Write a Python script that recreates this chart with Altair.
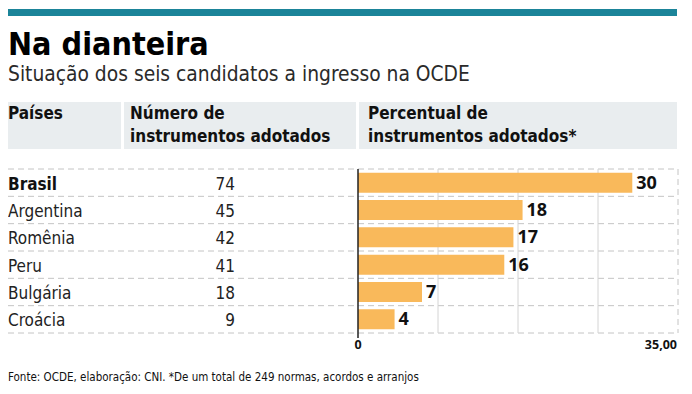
import altair as alt
import pandas as pd

# ---- data ----
paises = ["Brasil", "Argentina", "Romênia", "Peru", "Bulgária", "Croácia"]
numero = [74, 45, 42, 41, 18, 9]
percentual = [30, 18, 17, 16, 7, 4]
grid_vals = [8.75, 17.5, 26.25]
x_max = 35
tick_vals = [0, 35]
tick_labels = ["0", "35,00"]

titulo = "Na dianteira"
subtitulo = "Situação dos seis candidatos a ingresso na OCDE"
cab_paises = ["Países"]
cab_numero = ["Número de", "instrumentos adotados"]
cab_pct = ["Percentual de", "instrumentos adotados*"]
fonte = "Fonte: OCDE, elaboração: CNI. *De um total de 249 normas, acordos e arranjos"

# ---- styles ----
TEAL = "#1b8499"
GRAY = "#e9edef"
BAR = "#f9b95b"
DASH = "#c4c4c4"
COND = "DejaVu Sans Condensed, Liberation Sans Narrow, DejaVu Sans, sans-serif"
WIDE = "Open Sans, DejaVu Sans, sans-serif"

df = pd.DataFrame({"pais": paises, "numero": numero, "pct": percentual})
one = pd.DataFrame({"k": [0]})

xs = alt.Scale(domain=[0, x_max], range=[350, 670])
ys = alt.Scale(domain=paises, range=[161, 325], paddingInner=0, paddingOuter=0)
X = lambda f: alt.X(f, scale=xs, axis=None)
Y = lambda bp=0.5: alt.Y("pais:N", scale=ys, axis=None, sort=paises, bandPosition=bp)

base = alt.Chart(df)

# decorations
top_bar = alt.Chart(one).mark_rect(color=TEAL).encode(
    x=alt.value(0), x2=alt.value(669), y=alt.value(1), y2=alt.value(8))
bottom_bar = alt.Chart(one).mark_rect(color=TEAL).encode(
    x=alt.value(0), x2=alt.value(670), y=alt.value(380), y2=alt.value(384))
title = alt.Chart(one).mark_text(
    text=titulo, font=COND, fontSize=32, fontWeight="bold", align="left",
    baseline="alphabetic", color="#000").encode(x=alt.value(0), y=alt.value(47))
subtitle = alt.Chart(one).mark_text(
    text=subtitulo, font=COND, fontSize=20.8, align="left",
    baseline="alphabetic", color="#2a2a2a").encode(x=alt.value(0), y=alt.value(73))

hdr_rects = [
    alt.Chart(one).mark_rect(color=GRAY).encode(
        x=alt.value(a), x2=alt.value(b), y=alt.value(94), y2=alt.value(141))
    for a, b in [(0, 113), (116, 348), (351, 669)]
]
hdr_texts = [
    alt.Chart(one).mark_text(
        text=t, font=COND, fontSize=17, fontWeight="bold", align="left",
        baseline="alphabetic", lineHeight=23, color="#111").encode(
        x=alt.value(xp), y=alt.value(111))
    for t, xp in [(cab_paises, 0), (cab_numero, 122), (cab_pct, 360)]
]

# row separators
row_top = base.mark_rule(color=DASH, strokeDash=[6, 4], strokeWidth=1).encode(
    y=Y(0), x=alt.value(0), x2=alt.value(670))
row_bot = base.transform_filter(alt.datum.pais == paises[-1]).mark_rule(
    color=DASH, strokeDash=[6, 4], strokeWidth=1).encode(
    y=Y(1), x=alt.value(0), x2=alt.value(670))

grid = alt.Chart(pd.DataFrame({"v": grid_vals})).mark_rule(
    color="#d4d4d4", strokeWidth=1).encode(x=X("v:Q"), y=alt.value(161), y2=alt.value(325))
grid_end = alt.Chart(pd.DataFrame({"v": [x_max]})).mark_rule(
    color=DASH, strokeDash=[6, 4], strokeWidth=1).encode(
    x=X("v:Q"), y=alt.value(161), y2=alt.value(325))

bars = base.mark_bar(color=BAR, height={"band": 0.73}).encode(x=X("pct:Q"), y=Y())
bar_labels = base.mark_text(
    align="left", dx=4, dy=1, font=WIDE, fontSize=18, fontWeight="bold", color="#111").encode(
    x=X("pct:Q"), y=Y(), text="pct:Q")

axis_line = alt.Chart(pd.DataFrame({"v": [0]})).mark_rule(
    color="#222", strokeWidth=1.5).encode(x=X("v:Q"), y=alt.value(161), y2=alt.value(330))

ticks_df = pd.DataFrame({"v": tick_vals, "lab": tick_labels})
tick0 = alt.Chart(ticks_df).transform_filter(alt.datum.v == 0).mark_text(
    align="center", baseline="alphabetic", font=WIDE, fontSize=12.5, fontWeight="bold",
    color="#111").encode(x=X("v:Q"), y=alt.value(341), text="lab:N")
tick35 = alt.Chart(ticks_df).transform_filter(alt.datum.v == x_max).mark_text(
    align="right", baseline="alphabetic", font=WIDE, fontSize=12.5, fontWeight="bold",
    color="#111", dx=-1).encode(x=X("v:Q"), y=alt.value(341), text="lab:N")

names_bold = base.transform_filter(alt.datum.pais == paises[0]).mark_text(
    align="left", dy=2, font=COND, fontSize=17, fontWeight="bold", color="#111").encode(
    x=alt.value(0), y=Y(), text="pais:N")
names = base.transform_filter(alt.datum.pais != paises[0]).mark_text(
    align="left", dy=2, font=COND, fontSize=17, color="#222").encode(
    x=alt.value(0), y=Y(), text="pais:N")
nums = base.mark_text(align="right", dy=2, font=COND, fontSize=17, color="#222").encode(
    x=alt.value(227), y=Y(), text="numero:Q")

footer = alt.Chart(one).mark_text(
    text=fonte, font=COND, fontSize=11.5, align="left", baseline="alphabetic",
    color="#111").encode(x=alt.value(0), y=alt.value(373))

chart = alt.layer(
    top_bar, title, subtitle, *hdr_rects, *hdr_texts,
    row_top, row_bot, grid, grid_end, bars, bar_labels, axis_line,
    tick0, tick35, names_bold, names, nums, footer, bottom_bar,
).properties(
    width=676, height=378, padding=0,
    autosize=alt.AutoSizeParams(type="none"), background="white",
).configure_view(stroke=None)

chart.save("out.html", embed_options={"renderer": "svg", "actions": False})
